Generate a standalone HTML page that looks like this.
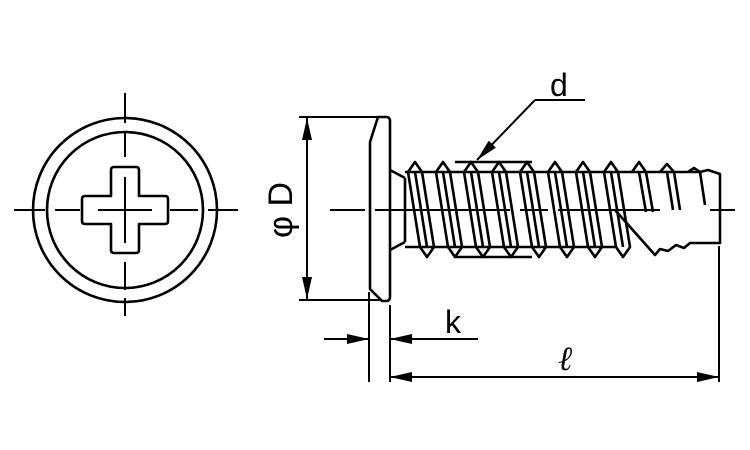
<!DOCTYPE html>
<html><head><meta charset="utf-8"><style>html,body{margin:0;padding:0;background:#fff;}svg{display:block}</style></head><body>
<svg width="750" height="450" viewBox="0 0 750 450" xmlns="http://www.w3.org/2000/svg" font-family="Liberation Sans, sans-serif">
<defs>
<marker id="a" markerWidth="22" markerHeight="10" refX="22" refY="5" orient="auto-start-reverse" markerUnits="userSpaceOnUse"><path d="M0,0 L22,5 L0,10Z" fill="#000"/></marker>
</defs>
<g fill="none" stroke="#000" stroke-width="2.6" stroke-linejoin="round">
<!-- left view -->
<circle cx="125" cy="210" r="92"/>
<circle cx="125" cy="210" r="78"/>
<path d="M114,167 h22 q3,0 3,3 v26 h26 q3,0 3,3 v22 q0,3 -3,3 h-26 v26 q0,3 -3,3 h-22 q-3,0 -3,-3 v-26 h-26 q-3,0 -3,-3 v-22 q0,-3 3,-3 h26 v-26 q0,-3 3,-3z"/>
<g stroke-width="2">
<line x1="14" y1="210" x2="45" y2="210"/><line x1="55" y1="210" x2="80" y2="210"/><line x1="98" y1="210" x2="152" y2="210"/><line x1="170" y1="210" x2="198" y2="210"/><line x1="208" y1="210" x2="238" y2="210"/>
<line x1="125" y1="93" x2="125" y2="123"/><line x1="125" y1="131" x2="125" y2="157"/><line x1="125" y1="177" x2="125" y2="243"/><line x1="125" y1="262" x2="125" y2="290"/><line x1="125" y1="298" x2="125" y2="316"/>
</g>
<!-- head side -->
<path d="M378,117 h8 q4,0 4,4 v176 q0,4 -4,4 h-4 l-12,-12 v-147 z"/>
<path d="M390,170 L405,178 M390,250 L405,242"/>
<line x1="405" y1="178" x2="405" y2="242"/>
<!-- shaft root lines -->
<line x1="405" y1="172" x2="700" y2="172"/>
<line x1="405" y1="247" x2="615" y2="247"/>
<path d="M700,172 L708,170 L720,174 V243 H690 L684,248 L676,245 L668,251 L660,249 L655,255 L615,210"/>
<!-- threads -->
<g stroke-width="2.6">
<path d="M408,172 L415,162 L422,172 L434,247 L427,257 L420,247 Z M415,172 L427,247"/>
<path d="M436,172 L443,162 L450,172 L462,247 L455,257 L448,247 Z M443,172 L455,247"/>
<path d="M464,172 L471,162 L478,172 L490,247 L483,257 L476,247 Z M471,172 L483,247"/>
<path d="M492,172 L499,162 L506,172 L518,247 L511,257 L504,247 Z M499,172 L511,247"/>
<path d="M520,172 L527,162 L534,172 L546,247 L539,257 L532,247 Z M527,172 L539,247"/>
<path d="M548,172 L555,162 L562,172 L574,247 L567,257 L560,247 Z M555,172 L567,247"/>
<path d="M576,172 L583,162 L590,172 L602,247 L595,257 L588,247 Z M583,172 L595,247"/>
<path d="M604,172 L611,162 L618,172 L630,247 L623,257 L616,247 Z M611,172 L623,247"/>
<path d="M632,172 L639,162 L646,172 L653,212 M639,172 L646,212"/>
<path d="M660,172 L667,164 L674,172 L680,210 M667,172 L673,210"/>
<path d="M688,172 L694,168 L700,172 L705,205"/>
</g>
<line x1="455" y1="162" x2="532" y2="162"/>
<line x1="455" y1="257" x2="532" y2="257"/>
<!-- centerline -->
<g stroke-width="2"><line x1="330" y1="210" x2="365" y2="210"/><line x1="375" y1="210" x2="510" y2="210"/><line x1="520" y1="210" x2="548" y2="210"/><line x1="558" y1="210" x2="660" y2="210"/><line x1="710" y1="210" x2="735" y2="210"/></g>
<!-- dimensions -->
<g stroke-width="2">
<line x1="299" y1="117" x2="378" y2="117"/>
<line x1="299" y1="300" x2="380" y2="300"/>
<line x1="307" y1="118" x2="307" y2="299" marker-start="url(#a)" marker-end="url(#a)"/>
<line x1="369" y1="292" x2="369" y2="382"/>
<line x1="390" y1="305" x2="390" y2="382"/>
<line x1="719" y1="246" x2="719" y2="382"/>
<line x1="324" y1="339" x2="369" y2="339" marker-end="url(#a)"/>
<line x1="478" y1="339" x2="390" y2="339" marker-end="url(#a)"/>
<line x1="390" y1="377" x2="719" y2="377" marker-start="url(#a)" marker-end="url(#a)"/>
<line x1="585" y1="100" x2="535" y2="100"/>
<line x1="535" y1="100" x2="477" y2="160" marker-end="url(#a)"/>
</g>
</g>
<g fill="#000" font-size="32">
<text x="550" y="96">d</text>
<text x="445" y="333">k</text>
<text x="558" y="370" font-family="Liberation Serif, serif" font-style="italic" font-size="34">ℓ</text>
<text transform="translate(292,210) rotate(-90)" text-anchor="middle" font-size="34">φ D</text>
</g>
</svg>
</body></html>
